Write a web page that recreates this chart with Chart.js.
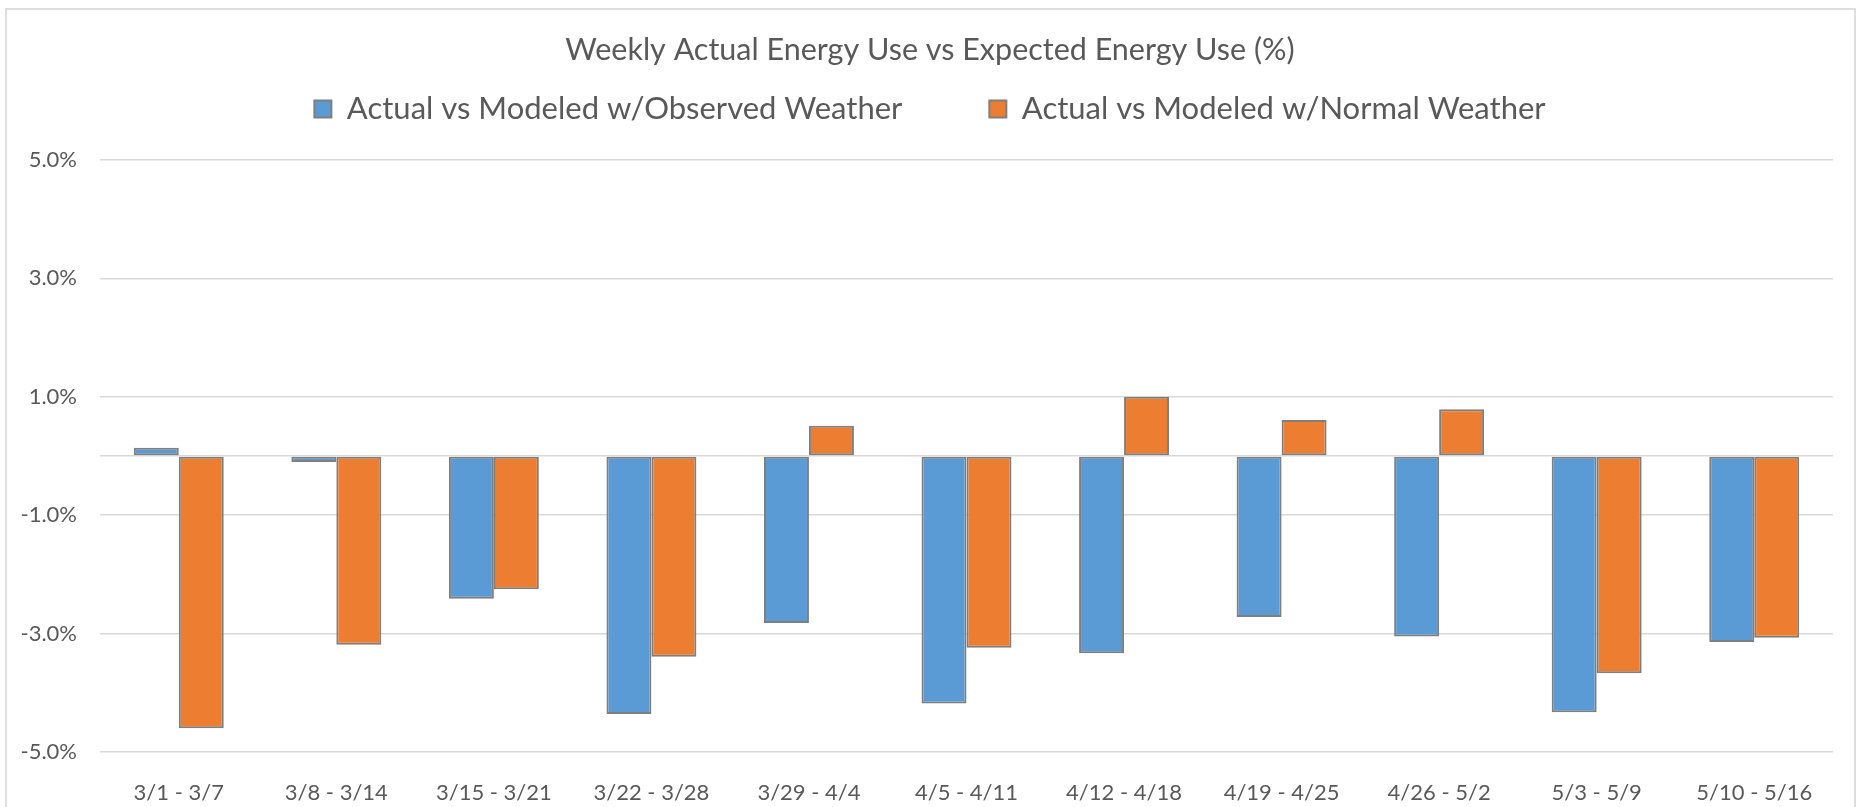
<!DOCTYPE html>
<html>
<head>
<meta charset="utf-8">
<script src="https://cdn.jsdelivr.net/npm/chart.js@4"></script>
<style>
	html, body { margin: 0; padding: 0; background: #ffffff; }
	#wrap { width: 1860px; height: 807px; position: relative; }
</style>
</head>
<body>
<div id="wrap"><canvas id="chart"></canvas></div>
<script>
// данные диаграммы
const categories = ['3/1 - 3/7', '3/8 - 3/14', '3/15 - 3/21', '3/22 - 3/28', '3/29 - 4/4', '4/5 - 4/11', '4/12 - 4/18', '4/19 - 4/25', '4/26 - 5/2', '5/3 - 5/9', '5/10 - 5/16'];
const observedWeather = [0.14, -0.10, -2.41, -4.36, -2.82, -4.18, -3.33, -2.72, -3.05, -4.33, -3.14];
const normalWeather = [-4.60, -3.19, -2.25, -3.39, 0.51, -3.24, 1.00, 0.61, 0.79, -3.67, -3.07];
const yTickValues = [5, 3, 1, -1, -3, -5];
const seriesNames = ['Actual vs Modeled w/Observed Weather', 'Actual vs Modeled w/Normal Weather'];
const chartTitle = 'Weekly Actual Energy Use vs Expected Energy Use (%)';

const textColor = '#595959';
const gridColor = '#d9d9d9';

// рамка вокруг всей диаграммы
const outerBorder = {
	id: 'outerBorder',
	beforeDraw(chart, args, options) {
		const { ctx } = chart;
		ctx.save();
		ctx.strokeStyle = options.borderColor;
		ctx.lineWidth = options.borderWidth;
		ctx.strokeRect(options.left, options.top, chart.width - options.left - options.right, chart.height + 20);
		ctx.restore();
	},
};

Chart.defaults.font.family = 'Lato, "Open Sans", sans-serif';
Chart.defaults.color = textColor;

const data = {
	labels: categories,
	datasets: [
		{
			label: seriesNames[0],
			data: observedWeather,
			backgroundColor: '#5B9BD5',
			borderColor: '#7f7f7f',
			borderWidth: 2,
			borderSkipped: false,
		},
		{
			label: seriesNames[1],
			data: normalWeather,
			backgroundColor: '#ED7D31',
			borderColor: '#7f7f7f',
			borderWidth: 2,
			borderSkipped: false,
		},
	],
};

const chartConfig = {
	type: 'bar',
	data: data,
	options: {
		responsive: true,
		maintainAspectRatio: false,
		animation: false,
		categoryPercentage: 0.571,
		barPercentage: 1,
		layout: { padding: 0 },
		plugins: {
			title: {
				display: true,
				text: chartTitle,
				color: textColor,
				font: { size: 30.5, weight: 'normal', lineHeight: 1.2 },
				padding: { top: 32, bottom: 0 },
			},
			// пустой подзаголовок как отступ между легендой и полем диаграммы
			subtitle: {
				display: true,
				text: '',
				weight: 500,
				font: { size: 10, lineHeight: 1 },
				padding: { top: 15.4, bottom: 0 },
			},
			legend: {
				position: 'top',
				labels: {
					color: textColor,
					font: { size: 31 },
					boxWidth: 17,
					boxHeight: 17,
					padding: 25,
					generateLabels: (chart) => {
						const items = Chart.defaults.plugins.legend.labels.generateLabels(chart);
						// дополнительный промежуток между пунктами легенды
						items.forEach((item, i) => {
							if (i < items.length - 1) item.text += '\u2003\u2003\u2002';
						});
						return items;
					},
				},
			},
			tooltip: { enabled: false },
			outerBorder: {
				borderColor: gridColor,
				borderWidth: 1.7,
				left: 6,
				top: 9,
				right: 5,
			},
		},
		scales: {
			x: {
				grid: { display: false },
				border: { display: false },
				ticks: {
					color: textColor,
					font: { size: 22 },
					padding: 20,
					maxRotation: 0,
					autoSkip: false,
				},
				afterFit: (scale) => {
					scale.height = 55;
				},
			},
			y: {
				min: -5,
				max: 5,
				border: { display: false },
				grid: {
					color: gridColor,
					lineWidth: 1.5,
					drawTicks: false,
				},
				afterBuildTicks: (scale) => {
					// линия нуля рисуется как линия сетки без подписи
					scale.ticks = [...yTickValues, 0].sort((a, b) => a - b).map((v) => ({ value: v }));
				},
				ticks: {
					color: textColor,
					font: { size: 22 },
					padding: 23,
					callback: (value) => (value === 0 ? '' : value.toFixed(1) + '%'),
				},
				afterFit: (scale) => {
					scale.width = 100;
				},
			},
			// пустая ось справа — отступ до правого края
			yRight: {
				position: 'right',
				display: true,
				grid: { display: false },
				border: { display: false },
				ticks: { display: false },
				afterFit: (scale) => {
					scale.width = 27;
				},
			},
		},
	},
	plugins: [outerBorder],
};

new Chart(document.getElementById('chart'), chartConfig);
</script>
</body>
</html>
